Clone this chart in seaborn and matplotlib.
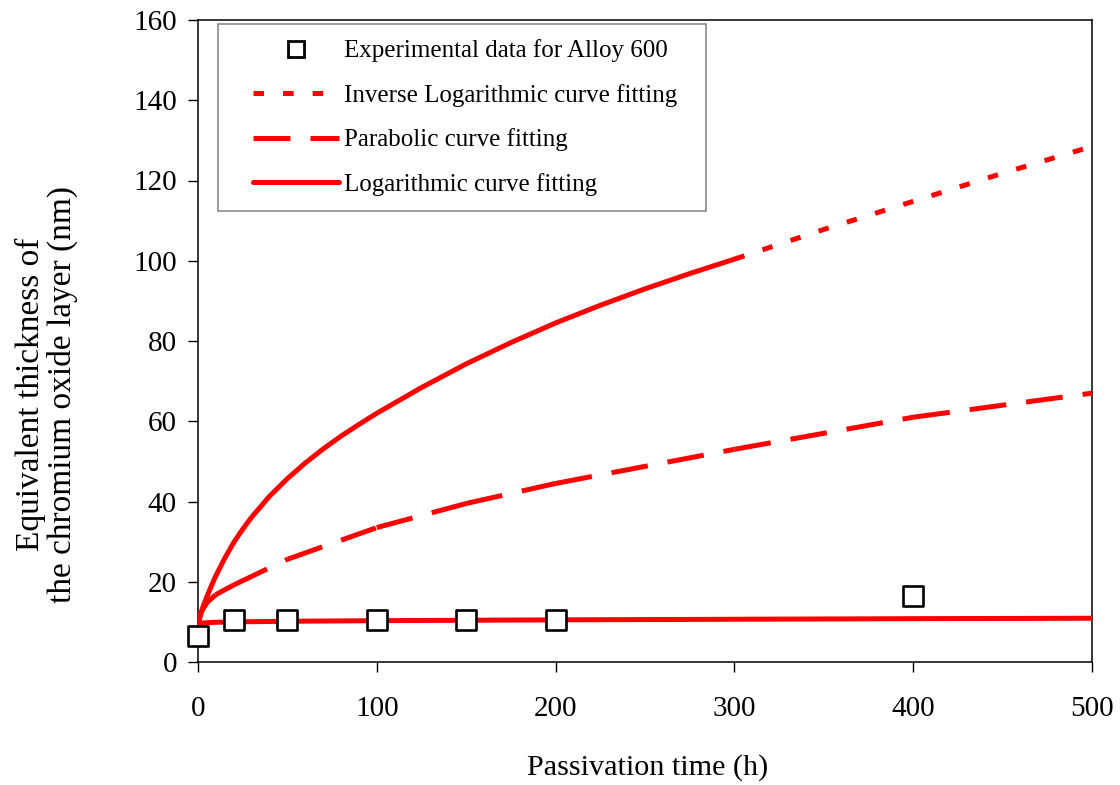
import numpy as np
import matplotlib
matplotlib.use("Agg")
import matplotlib.pyplot as plt
import seaborn as sns
from matplotlib.lines import Line2D
from matplotlib.collections import LineCollection
from matplotlib.legend_handler import HandlerLine2D

# ---------------- data ----------------
exp_t = [0, 20, 50, 100, 150, 200, 400]
exp_y = [6.5, 10.5, 10.5, 10.5, 10.5, 10.5, 16.4]

inv_t = [0, 1, 2, 3, 5, 7.5, 10, 15, 20, 25, 30, 40, 50, 60, 70, 80, 90, 100,
         125, 150, 175, 200, 225, 250, 275, 300, 350, 400, 450, 500]
inv_y = [8.8, 11.2, 12.7, 14.0, 16.3, 19.0, 21.5, 25.9, 29.8, 33.1, 36.1,
         41.3, 45.7, 49.6, 53.1, 56.3, 59.2, 62.0, 68.4, 74.3, 79.6, 84.5,
         88.9, 93.0, 96.8, 100.4, 107.8, 114.8, 121.8, 128.5]

par_t = [0, 2, 5, 10, 20, 50, 100, 150, 200, 300, 400, 500]
par_y = [9.5, 12.6, 14.8, 16.8, 19.2, 25.6, 33.5, 39.5, 44.5, 53.0, 61.0, 67.0]

log_t = [0, 2, 5, 10, 20, 50, 100, 150, 200, 300, 400, 500]
log_y = [9.6, 9.7, 9.8, 9.9, 10.0, 10.15, 10.3, 10.4, 10.5, 10.65, 10.8, 10.9]

labels = ["Experimental data for Alloy 600",
          "Inverse Logarithmic curve fitting",
          "Parabolic curve fitting",
          "Logarithmic curve fitting"]
x_ticks = [0, 100, 200, 300, 400, 500]
y_ticks = [0, 20, 40, 60, 80, 100, 120, 140, 160]

# ---------------- style ----------------
sns.set_theme(style="white", rc={
    "axes.edgecolor": "black", "text.color": "black",
    "axes.labelcolor": "black", "xtick.color": "black", "ytick.color": "black",
})
plt.rcParams["font.family"] = ["Liberation Serif", "DejaVu Serif"]
plt.rcParams["lines.scale_dashes"] = False

RED = "#FF0000"
LW = 3.6
DOT = (0, (7.6, 13.7))
DASH = (0, (26.6, 14.4))

fig = plt.figure(figsize=(11.2, 7.85), dpi=100)
ax = fig.add_axes([198 / 1120, 1 - 662 / 785, 894 / 1120, 642 / 785])

# Logarithmic fit (solid)
sns.lineplot(x=log_t, y=log_y, ax=ax, color=RED, lw=LW, sort=False,
             estimator=None, zorder=3, legend=False)

# Inverse logarithmic fit: dense points (look solid) up to 300 h, dotted beyond
inv_t_a = np.array(inv_t)
inv_y_a = np.array(inv_y)
m1 = inv_t_a <= 300
m2 = inv_t_a >= 300
sns.lineplot(x=inv_t_a[m1], y=inv_y_a[m1], ax=ax, color=RED, lw=LW,
             sort=False, estimator=None, zorder=3, legend=False)
ax.plot(inv_t_a[m2], inv_y_a[m2], color=RED, lw=LW, linestyle=DOT,
        dash_capstyle="butt", zorder=3)

# Parabolic fit: dashed, dash pattern restarts at every data point
pts = np.column_stack([par_t, par_y])
segs = [pts[i:i + 2] for i in range(len(pts) - 1)]
lc = LineCollection(segs, colors=RED, linewidths=LW, linestyles=[DASH],
                    capstyle="butt", zorder=3)
ax.add_collection(lc)

# Experimental points
sns.scatterplot(x=exp_t, y=exp_y, ax=ax, marker="s", s=14.4 ** 2,
                color="white", edgecolor="black", linewidth=1.9,
                zorder=5, clip_on=False, legend=False)

ax.set_xlim(0, 500)
ax.set_ylim(0, 160)
ax.set_xticks(x_ticks)
ax.set_yticks(y_ticks)
ax.tick_params(axis="x", direction="out", length=7.2, width=1.0,
               labelsize=21, pad=17, bottom=True)
ax.tick_params(axis="y", direction="out", length=7.2, width=1.0,
               labelsize=21, pad=8, left=True)
for sp in ax.spines.values():
    sp.set_visible(True)
    sp.set_color("black")
    sp.set_linewidth(1.1)

ax.set_xlabel("Passivation time (h)", fontsize=21.7)
ax.xaxis.set_label_coords(0.503, -0.144)
ax.set_ylabel("Equivalent thickness of\nthe chromium oxide layer (nm)",
              fontsize=24, linespacing=1.05)
ax.yaxis.set_label_coords(-0.134, 0.417)

# ---------------- legend ----------------
FS = 18
FPX = FS / 0.72
K = 86 / 105.5


class ShiftHandler(HandlerLine2D):
    def create_artists(self, legend, orig_handle, xdescent, ydescent,
                       width, height, fontsize, trans):
        arts = super().create_artists(legend, orig_handle, xdescent, ydescent,
                                      width, height, fontsize, trans)
        x1 = -xdescent + width
        for a in arts:
            xd = np.asarray(a.get_xdata(), float)
            a.set_xdata(x1 - (x1 - xd) * K)
        return arts


handles = [
    Line2D([], [], ls="none", marker="s", ms=12, mew=2.0,
           markerfacecolor="white", markeredgecolor="black"),
    Line2D([], [], color=RED, lw=LW, ls=DOT, dash_capstyle="butt"),
    Line2D([], [], color=RED, lw=LW, ls=DASH, dash_capstyle="butt"),
    Line2D([], [], color=RED, lw=LW),
]
leg = ax.legend(handles, labels, loc="upper left", mode="expand",
                bbox_to_anchor=(20 / 894, 1 - 4 / 642, 488 / 894, 0),
                borderaxespad=0,
                fontsize=FS, frameon=True, fancybox=False, framealpha=1,
                edgecolor="#808080", handlelength=105.5 / FPX,
                handletextpad=5 / FPX, borderpad=0.62, labelspacing=0.86,
                handler_map={Line2D: ShiftHandler()})
leg.get_frame().set_linewidth(1.1)
leg.set_zorder(6)

fig.savefig("out.png", dpi=100)
